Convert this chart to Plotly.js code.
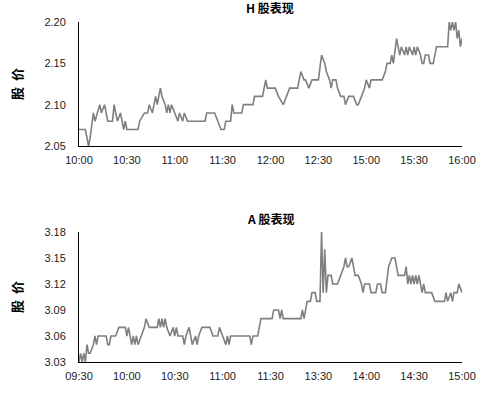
<!DOCTYPE html>
<html>
<head>
<meta charset="utf-8">
<script src="https://cdn.plot.ly/plotly-3.0.1.min.js"></script>
<style>html,body{margin:0;padding:0;background:#fff;}#chart{width:500px;height:397px;}</style>
</head>
<body>
<div id="chart"></div>
<script>
// H share: minute index (0..240 trading minutes) and price
const hMinutes = [0,4,6,7,9,10,13,14,16,18,21,22,23,24,26,28,29,30,37,38,41,43,44,46,48,49,51,52,54,55,56,57,58,60,62,63,65,66,68,79,80,85,87,89,91,92,95,96,97,102,103,109,110,115,117,118,123,125,128,130,132,137,139,141,142,144,146,150,152,154,155,157,158,159,161,162,164,166,167,169,172,174,175,177,179,180,182,183,190,192,193,195,196,197,199,200,201,202,204,205,206,207,209,210,211,212,214,215,216,217,219,220,222,223,224,231,232,233,234,235,236,237,238,239,240];
const hPrice = [2.07,2.07,2.05,2.06,2.09,2.08,2.10,2.09,2.10,2.08,2.08,2.10,2.09,2.08,2.09,2.07,2.08,2.07,2.07,2.08,2.09,2.09,2.10,2.09,2.11,2.10,2.12,2.11,2.10,2.09,2.10,2.09,2.10,2.09,2.08,2.09,2.08,2.09,2.08,2.08,2.09,2.09,2.08,2.07,2.07,2.08,2.08,2.10,2.09,2.09,2.10,2.10,2.11,2.11,2.13,2.12,2.12,2.11,2.10,2.11,2.12,2.12,2.14,2.13,2.13,2.12,2.13,2.13,2.16,2.15,2.14,2.13,2.12,2.13,2.13,2.12,2.11,2.11,2.10,2.11,2.11,2.10,2.10,2.11,2.12,2.13,2.12,2.13,2.13,2.14,2.15,2.15,2.16,2.15,2.18,2.17,2.16,2.17,2.16,2.17,2.16,2.17,2.16,2.17,2.16,2.17,2.16,2.15,2.15,2.16,2.16,2.15,2.15,2.16,2.17,2.17,2.20,2.19,2.20,2.19,2.20,2.18,2.19,2.17,2.18];
const hTickText = ['10:00','10:30','11:00','11:30','12:00','12:30','15:00','15:30','16:00'];

// A share
const aMinutes = [0,1,2,3,4,5,6,7,9,10,11,12,17,18,19,20,23,25,29,30,31,33,34,35,36,37,39,41,42,44,49,50,51,52,53,54,55,57,59,60,61,62,65,66,67,69,70,71,73,74,75,77,82,84,87,88,90,92,93,94,95,107,108,109,112,114,121,122,125,126,127,128,139,140,141,142,143,145,146,148,149,151,152,153,154,155,156,158,159,162,164,166,167,168,169,171,172,173,175,177,178,179,182,183,186,187,189,190,192,194,196,198,200,204,205,206,207,208,209,210,211,212,213,214,215,216,217,218,221,223,229,230,231,233,234,235,237,238,240];
const aPrice = [3.03,3.04,3.03,3.04,3.03,3.05,3.04,3.04,3.05,3.06,3.05,3.06,3.06,3.05,3.05,3.06,3.06,3.07,3.07,3.06,3.07,3.05,3.06,3.05,3.06,3.05,3.06,3.07,3.08,3.07,3.07,3.08,3.07,3.08,3.07,3.08,3.07,3.06,3.07,3.06,3.07,3.06,3.06,3.05,3.06,3.07,3.06,3.05,3.06,3.05,3.06,3.07,3.07,3.06,3.06,3.07,3.06,3.05,3.06,3.05,3.06,3.06,3.05,3.06,3.06,3.08,3.08,3.09,3.09,3.08,3.09,3.08,3.08,3.09,3.08,3.09,3.10,3.10,3.11,3.11,3.10,3.10,3.18,3.11,3.16,3.11,3.13,3.13,3.12,3.12,3.13,3.14,3.15,3.14,3.14,3.15,3.14,3.13,3.13,3.12,3.11,3.12,3.12,3.11,3.11,3.12,3.12,3.11,3.11,3.14,3.15,3.15,3.13,3.13,3.14,3.12,3.13,3.12,3.13,3.12,3.13,3.12,3.13,3.12,3.11,3.12,3.11,3.11,3.11,3.10,3.10,3.11,3.10,3.11,3.10,3.11,3.11,3.12,3.11];
const aTickText = ['09:30','10:00','10:30','11:00','11:30','13:30','14:00','14:30','15:00'];

const tickPos = [0,30,60,90,120,150,180,210,240];
const hYTicks = [2.05,2.10,2.15,2.20];
const aYTicks = [3.03,3.06,3.09,3.12,3.15,3.18];

const lineStyle = {color:'#7f7f7f', width:1.6};
const tickFont = {family:'Liberation Sans, Arial, sans-serif', size:11, color:'#222'};
const cjk = 'Noto Sans CJK SC, sans-serif';

const traces = [
  {x:hMinutes, y:hPrice, type:'scatter', mode:'lines', line:lineStyle, xaxis:'x', yaxis:'y', hoverinfo:'skip'},
  {x:aMinutes, y:aPrice, type:'scatter', mode:'lines', line:lineStyle, xaxis:'x2', yaxis:'y2', hoverinfo:'skip'}
];

const xCommon = {range:[0,240], tickmode:'array', tickvals:tickPos, showline:true, linecolor:'#000', linewidth:1,
  showgrid:false, zeroline:false, ticks:'', ticklabelstandoff:4, tickfont:tickFont, fixedrange:true};
const yCommon = {showline:true, linecolor:'#000', linewidth:1, showgrid:false, zeroline:false, ticks:'',
  ticklabelstandoff:10, tickfont:tickFont, tickmode:'array', tickformat:'.2f', fixedrange:true};

const layout = {
  width:500, height:397, margin:{l:0,r:0,t:0,b:0}, showlegend:false,
  paper_bgcolor:'#fff', plot_bgcolor:'#fff',
  xaxis: Object.assign({}, xCommon, {domain:[0.158,0.924], anchor:'y', ticktext:hTickText}),
  yaxis: Object.assign({}, yCommon, {domain:[0.6322,0.9446], anchor:'x', range:[2.05,2.20], tickvals:hYTicks,
    title:{text:'股  价', font:{family:cjk, size:13, color:'#000', weight:'bold'}, standoff:18}}),
  xaxis2: Object.assign({}, xCommon, {domain:[0.158,0.924], anchor:'y2', ticktext:aTickText}),
  yaxis2: Object.assign({}, yCommon, {domain:[0.0882,0.4156], anchor:'x2', range:[3.03,3.18], tickvals:aYTicks,
    title:{text:'股  价', font:{family:cjk, size:13, color:'#000', weight:'bold'}, standoff:18}}),
  annotations:[
    {text:'<b>H 股表现</b>', xref:'paper', yref:'paper', x:0.54, y:1-8/397, xanchor:'center', yanchor:'middle', showarrow:false,
     font:{family:cjk, size:12, color:'#000'}},
    {text:'<b>A 股表现</b>', xref:'paper', yref:'paper', x:0.54, y:1-218/397, xanchor:'center', yanchor:'middle', showarrow:false,
     font:{family:cjk, size:12, color:'#000'}}
  ]
};

Plotly.newPlot('chart', traces, layout, {staticPlot:true, displayModeBar:false});
</script>
</body>
</html>
